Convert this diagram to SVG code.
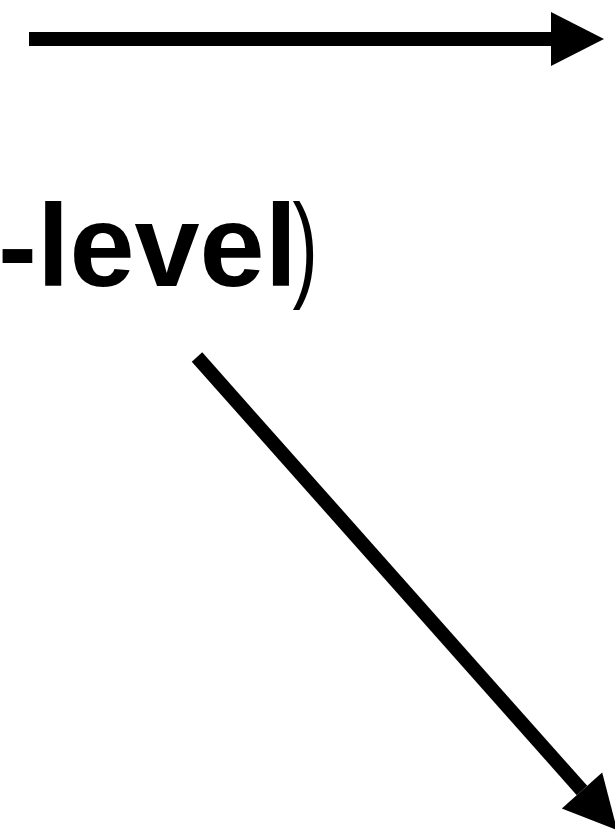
<svg xmlns="http://www.w3.org/2000/svg" width="615" height="836" viewBox="0 0 615 836">
<style>
.conn{stroke:#000;stroke-width:14;fill:none}
.lbl{font-family:"Liberation Sans",Arial,Helvetica,sans-serif;font-size:117px;fill:#000}
</style>
<defs>
<marker id="head" markerUnits="userSpaceOnUse" markerWidth="60" markerHeight="60" viewBox="0 -30 60 60" refX="0" refY="0" orient="auto" overflow="visible">
<path d="M0,-27 L53,0 L0,27 Z" fill="#000"/>
</marker>
</defs>
<rect width="615" height="836" fill="#fff"/>
<g id="label">
<text class="lbl" x="-2" y="286" font-weight="bold">-level</text>
<text class="lbl" x="450" y="286" transform="scale(0.65,1)">)</text>
</g>
<g id="connectors">
<line class="conn" x1="29" y1="39" x2="551" y2="39" marker-end="url(#head)"/>
<line class="conn" x1="197" y1="357" x2="582" y2="790.5" marker-end="url(#head)"/>
</g>
</svg>
